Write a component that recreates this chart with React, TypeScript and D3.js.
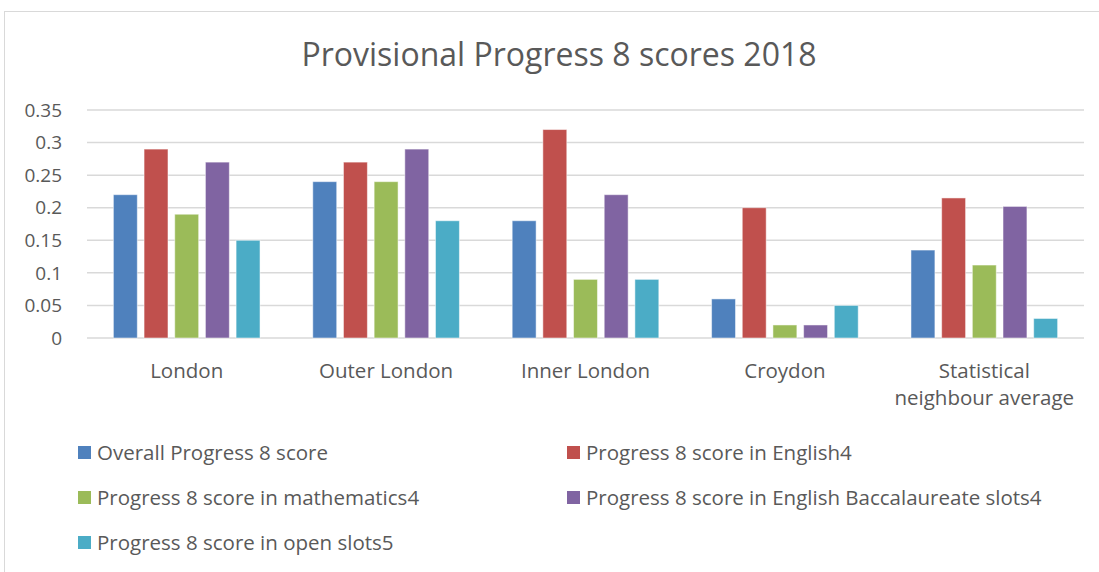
import { useRef, useEffect } from 'react';
import * as d3 from 'd3';

const CATEGORIES = ["London", "Outer London", "Inner London", "Croydon", "Statistical neighbour average"];
const CATEGORY_LINES = [["London"], ["Outer London"], ["Inner London"], ["Croydon"], ["Statistical", "neighbour average"]];

const SERIES = [
  "Overall Progress 8 score",
  "Progress 8 score in English4",
  "Progress 8 score in mathematics4",
  "Progress 8 score in English Baccalaureate slots4",
  "Progress 8 score in open slots5"
];

const OVERALL = [0.22, 0.24, 0.18, 0.06, 0.135];
const ENGLISH = [0.29, 0.27, 0.32, 0.2, 0.215];
const MATHS = [0.19, 0.24, 0.09, 0.02, 0.112];
const EBACC = [0.27, 0.29, 0.22, 0.02, 0.202];
const OPEN = [0.15, 0.18, 0.09, 0.05, 0.03];

const Y_TICKS = [0, 0.05, 0.1, 0.15, 0.2, 0.25, 0.3, 0.35];

const COLORS = ["#4F81BD", "#C0504D", "#9BBB59", "#8064A2", "#4BACC6"];

const FONT = "'Open Sans', sans-serif";
const TEXT = "#595959";

function ProgressChart() {
  const svgRef = useRef<SVGSVGElement>(null);

  useEffect(() => {
    const svg = d3.select(svgRef.current);
    svg.selectAll("*").remove();

    const W = 1099, H = 572;
    const plot = { left: 87, right: 1084, top: 110, bottom: 338 };

    svg.attr("width", W).attr("height", H);

    // chart frame
    svg.append("rect")
      .attr("x", 4.5).attr("y", 11.5)
      .attr("width", W + 20).attr("height", H + 20)
      .attr("fill", "#fff").attr("stroke", "#d9d9d9");

    svg.append("text")
      .attr("x", 559).attr("y", 66)
      .attr("text-anchor", "middle")
      .style("font-family", FONT).style("font-size", "32px").style("fill", TEXT)
      .text("Provisional Progress 8 scores 2018");

    const values = [OVERALL, ENGLISH, MATHS, EBACC, OPEN];
    const rows = CATEGORIES.map((c, ci) => ({
      cat: c,
      vals: SERIES.map((s, si) => ({ series: s, idx: si, v: values[si][ci] }))
    }));

    const y = d3.scaleLinear().domain([0, 0.35]).range([plot.bottom, plot.top]);
    const x0 = d3.scaleBand().domain(CATEGORIES).range([plot.left, plot.right]).padding(0);
    const x1 = d3.scaleBand().domain(SERIES).range([0, x0.bandwidth()])
      .paddingInner(0.22).paddingOuter(0.86);

    // gridlines
    svg.append("g").selectAll("line")
      .data(Y_TICKS)
      .enter().append("line")
      .attr("x1", plot.left).attr("x2", plot.right)
      .attr("y1", d => y(d)).attr("y2", d => y(d))
      .attr("stroke", "#d9d9d9").attr("stroke-width", 1.5);

    // y tick labels
    svg.append("g").selectAll("text")
      .data(Y_TICKS)
      .enter().append("text")
      .attr("x", 62).attr("y", d => y(d))
      .attr("dy", "0.35em")
      .attr("text-anchor", "end")
      .style("font-family", FONT).style("font-size", "19px").style("fill", TEXT)
      .text(d => String(d));

    // bars
    const groups = svg.append("g").selectAll("g")
      .data(rows)
      .enter().append("g")
      .attr("transform", d => `translate(${x0(d.cat)},0)`);

    groups.selectAll("rect")
      .data(d => d.vals)
      .enter().append("rect")
      .attr("x", d => x1(d.series)!)
      .attr("y", d => y(d.v))
      .attr("width", x1.bandwidth())
      .attr("height", d => y(0) - y(d.v))
      .attr("fill", d => COLORS[d.idx])
      .attr("stroke", "#ffffff").attr("stroke-opacity", 0.5).attr("stroke-width", 1);

    // category labels
    svg.append("g").selectAll("text")
      .data(CATEGORIES)
      .enter().append("text")
      .attr("x", d => x0(d)! + x0.bandwidth() / 2)
      .attr("y", 371)
      .attr("text-anchor", "middle")
      .style("font-family", FONT).style("font-size", "20.5px").style("fill", TEXT)
      .each(function (d, i) {
        const lines = CATEGORY_LINES[i];
        lines.forEach((ln, li) => {
          d3.select(this).append("tspan")
            .attr("x", x0(d)! + x0.bandwidth() / 2)
            .attr("dy", li === 0 ? "0.35em" : "1.3em")
            .text(ln);
        });
      });

    // legend
    const legendPos = [
      { x: 78, y: 453 }, { x: 567, y: 453 },
      { x: 78, y: 498 }, { x: 567, y: 498 },
      { x: 78, y: 543 }
    ];
    const legend = svg.append("g").selectAll("g")
      .data(SERIES)
      .enter().append("g")
      .attr("transform", (d, i) => `translate(${legendPos[i].x},${legendPos[i].y})`);

    legend.append("rect")
      .attr("x", 0).attr("y", -7)
      .attr("width", 13).attr("height", 13)
      .attr("fill", (d, i) => COLORS[i]);

    legend.append("text")
      .attr("x", 19).attr("y", 0).attr("dy", "0.35em")
      .style("font-family", FONT).style("font-size", "20.5px").style("fill", TEXT)
      .text(d => d);
  }, []);

  return <svg ref={svgRef}></svg>;
}

export default function App() {
  return (
    <div style={{ position: "absolute", left: 0, top: 0, width: 1099, height: 572, overflow: "hidden", background: "#fff" }}>
      <ProgressChart />
    </div>
  );
}
